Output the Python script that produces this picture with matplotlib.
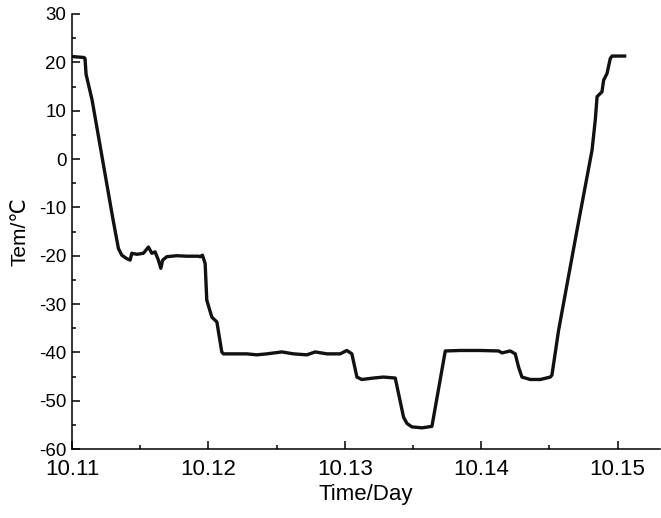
import matplotlib.pyplot as plt
from matplotlib.ticker import MultipleLocator

# time (day) and temperature (degC)
time = [10.11000, 10.11088, 10.11095, 10.11103, 10.11147, 10.11301, 10.11340,
        10.11365, 10.11401, 10.11426, 10.11438, 10.11475, 10.11523, 10.11560,
        10.11585, 10.11609, 10.11633, 10.11651, 10.11665, 10.11695, 10.11768,
        10.11842, 10.11927, 10.11939, 10.11956, 10.11976, 10.11988, 10.12025,
        10.12062, 10.12098, 10.12110, 10.12208, 10.12282, 10.12355, 10.12428,
        10.12539, 10.12624, 10.12722, 10.12783, 10.12869, 10.12966, 10.13015,
        10.13052, 10.13089, 10.13125, 10.13211, 10.13284, 10.13370, 10.13431,
        10.13456, 10.13492, 10.13566, 10.13639, 10.13737, 10.13847, 10.13993,
        10.14128, 10.14153, 10.14213, 10.14250, 10.14274, 10.14299, 10.14360,
        10.14434, 10.14507, 10.14519, 10.14568, 10.14703, 10.14813, 10.14837,
        10.14850, 10.14886, 10.14898, 10.14923, 10.14947, 10.14960, 10.15052]
temp = [21.2, 21.0, 20.8, 17.5, 12.2, -12.6, -18.5,
        -19.9, -20.6, -20.9, -19.5, -19.7, -19.5, -18.2,
        -19.5, -19.2, -20.9, -22.6, -20.9, -20.2, -20.0,
        -20.1, -20.1, -20.2, -19.9, -21.6, -29.2, -32.7,
        -33.7, -39.9, -40.3, -40.3, -40.3, -40.5, -40.3,
        -39.9, -40.3, -40.5, -39.9, -40.3, -40.3, -39.6,
        -40.3, -45.1, -45.6, -45.3, -45.1, -45.3, -53.4,
        -54.7, -55.4, -55.6, -55.3, -39.7, -39.6, -39.6,
        -39.7, -40.1, -39.7, -40.3, -43.0, -45.1, -45.6,
        -45.6, -45.1, -44.7, -35.4, -14.7, 1.8, 8.1,
        12.9, 13.9, 16.3, 17.7, 20.8, 21.3, 21.3]

plt.rcParams['font.family'] = ['Liberation Sans', 'DejaVu Sans']
plt.rcParams['axes.unicode_minus'] = False

fig = plt.figure(figsize=(6.61, 5.18), dpi=100)
ax = fig.add_axes([0.109, 0.133, 0.890, 0.840])
ax.plot(time, temp, '-', color='#111111', lw=2.4, solid_joinstyle='round')

ax.set_xlim(10.11, 10.15314)
ax.set_ylim(-60, 30)
ax.xaxis.set_major_locator(MultipleLocator(0.01))
ax.xaxis.set_minor_locator(MultipleLocator(0.005))
ax.yaxis.set_major_locator(MultipleLocator(10))
ax.yaxis.set_minor_locator(MultipleLocator(5))
ax.xaxis.set_major_formatter(lambda v, p: '%.2f' % v)

for s in ('top', 'right'):
    ax.spines[s].set_visible(False)
for s in ('left', 'bottom'):
    ax.spines[s].set_linewidth(1.1)
ax.tick_params(which='both', direction='in', width=1.1)
ax.tick_params(which='major', length=6)
ax.tick_params(which='minor', length=3)
ax.tick_params(axis='x', labelsize=16, pad=7)
ax.tick_params(axis='y', labelsize=13.5, pad=4)

ax.set_xlabel('Time/Day', fontsize=16, labelpad=3)
ax.set_ylabel('Tem/℃', fontsize=15, labelpad=7)

fig.savefig('out.png', dpi=100)
